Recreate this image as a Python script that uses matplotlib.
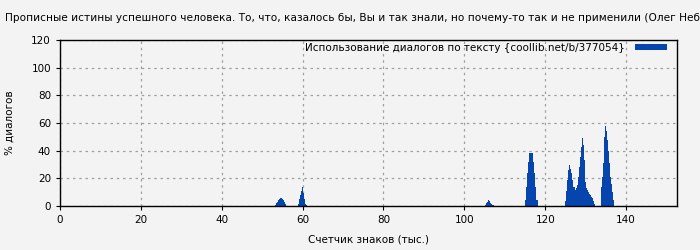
import matplotlib
matplotlib.use("Agg")
import matplotlib.pyplot as plt
import numpy as np

title = ("Прописные истины успешного человека. То, что, казалось бы, Вы и так знали, "
         "но почему-то так и не применили (Олег Небогатов)")
legend_label = "Использование диалогов по тексту {coollib.net/b/377054}"

# each peak: start position (thousand chars) and bar heights (% dialogs), bars every 0.25
step = 0.25
p1_start = 53.25
p1_vals = [1, 2, 3, 4, 5, 5.5, 5.5, 5, 4, 3, 1.5]
p2_start = 58.75
p2_vals = [1.5, 4.8, 8, 11, 13.5, 9.6, 4.8, 1.5, 1]
p3_start = 105.0
p3_vals = [1, 2, 3, 4.3, 3.5, 2.5, 1.5, 1, 0.5]
p4_start = 115.0
p4_vals = [4, 14, 24, 32, 38.5, 38, 38, 38, 32, 24, 14, 4, 4]
p5_start = 125.0
p5_vals = [3.6, 10.8, 19, 26, 30, 27, 24, 19, 14, 11.5, 13, 15, 21, 28, 35.6,
           43, 49, 44, 33, 17.6, 12.8, 11.5, 10.3, 9, 8, 6.7, 5.5, 3.8, 1.4]
p6_start = 133.75
p6_vals = [14, 21, 31, 50, 58, 54, 48, 40, 31, 21, 16, 10, 4]

peaks = [(p1_start, p1_vals), (p2_start, p2_vals), (p3_start, p3_vals),
         (p4_start, p4_vals), (p5_start, p5_vals), (p6_start, p6_vals)]

xs = []
ys = []
for start, vals in peaks:
    for i, v in enumerate(vals):
        xs.append(start + i * step)
        ys.append(v)

bg = "#f3f3f3"
color = "#0645ad"

fig = plt.figure(figsize=(7, 2.5), dpi=100, facecolor=bg)
ax = fig.add_axes([60/700, 1-206/250, 617/700, 166/250])
ax.set_facecolor(bg)

ax.bar(xs, ys, width=step, align="edge", color=color, linewidth=0, label=legend_label)

ax.set_xlim(0, 152.6)
ax.set_ylim(0, 120)
ax.set_xticks(np.arange(0, 141, 20))
ax.set_yticks(np.arange(0, 121, 20))
ax.tick_params(labelsize=7.5, length=3, direction="out", color="black")
ax.grid(True, color="#a0a0a0", linestyle=(0, (2, 3)), linewidth=0.9)
ax.set_axisbelow(True)
for s in ax.spines.values():
    s.set_color("black")
    s.set_linewidth(1)

ax.set_xlabel("Счетчик знаков (тыс.)", fontsize=7.5, labelpad=7)
ax.set_ylabel("% диалогов", fontsize=7.5, labelpad=12)

leg = ax.legend(loc="upper right", fontsize=7.5, frameon=False, handlelength=3.0,
                handleheight=0.5, borderaxespad=0.3, markerfirst=False,
                handletextpad=1.0, bbox_to_anchor=(0.995, 1.025))

fig.text(5/700, 1-18/250, title, fontsize=7.6, ha="left", va="center")

fig.savefig("out.png", dpi=100, facecolor=bg)
